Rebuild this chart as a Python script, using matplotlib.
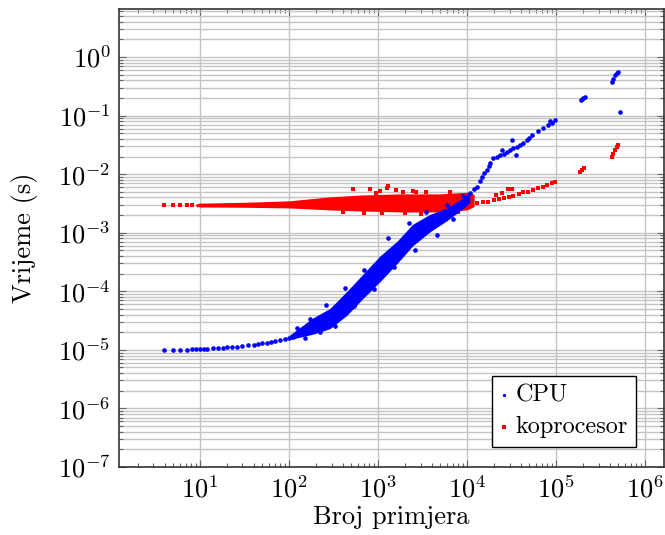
import numpy as np
import matplotlib
matplotlib.use('Agg')
import matplotlib.pyplot as plt
import matplotlib.ticker as mticker

# CPU (blue) - single points
cpu_x = [3.9, 5.0, 6.0, 7.1, 8.1, 9, 10, 11, 12, 14, 16, 18, 20, 23, 26, 30, 35, 40, 45, 50,
         56, 63, 70, 80, 90, 100, 110, 123, 150, 172, 223, 260, 330, 420, 530, 700, 900,
         1300, 1500, 2200, 2600, 3500, 4600, 6000, 7000, 9000,
         1.07e4, 1.2e4, 1.3e4, 1.4e4, 1.47e4, 1.55e4, 1.66e4, 1.75e4, 1.8e4, 1.96e4, 2.15e4,
         2.35e4, 2.6e4, 2.8e4, 3.0e4, 3.3e4, 3.6e4, 3.9e4, 4.3e4, 4.7e4, 5.4e4, 6.2e4, 7.1e4,
         8.1e4, 9.0e4, 9.8e4, 3.2e4, 2.5e4, 3.5e4, 5.0e4, 8.5e4,
         1.9e5, 1.95e5, 2.0e5, 2.1e5, 4.3e5, 4.4e5, 4.6e5, 4.8e5, 5.0e5, 5.2e5]
cpu_y = [1.0e-5, 1.0e-5, 1.0e-5, 1.0e-5, 1.02e-5, 1.02e-5, 1.03e-5, 1.04e-5, 1.05e-5, 1.06e-5,
         1.07e-5, 1.08e-5, 1.1e-5, 1.12e-5, 1.14e-5, 1.17e-5, 1.2e-5, 1.23e-5, 1.26e-5, 1.29e-5,
         1.32e-5, 1.36e-5, 1.4e-5, 1.46e-5, 1.52e-5, 1.6e-5, 1.68e-5, 2.4e-5, 1.6e-5, 3.4e-5,
         2.0e-5, 5.8e-5, 2.6e-5, 1.15e-4, 5.5e-5, 2.3e-4, 1.1e-4, 8.0e-4, 2.6e-4, 1.45e-3,
         5.0e-4, 2.3e-3, 9.0e-4, 3.0e-3, 1.7e-3, 4.2e-3,
         4.8e-3, 5.5e-3, 6.0e-3, 7.5e-3, 9.0e-3, 1.05e-2, 1.17e-2, 1.4e-2, 1.55e-2, 1.87e-2, 2.0e-2,
         2.1e-2, 2.25e-2, 2.4e-2, 2.6e-2, 2.8e-2, 2.95e-2, 3.1e-2, 3.4e-2, 3.8e-2, 4.7e-2, 5.4e-2,
         6.1e-2, 6.9e-2, 7.6e-2, 8.4e-2, 3.8e-2, 2.6e-2, 2.1e-2, 4.2e-2, 8.0e-2,
         0.185, 0.195, 0.2, 0.21, 0.37, 0.42, 0.5, 0.53, 0.55, 0.115]

# CPU dense band (lower / upper edge)
cpu_band_x = [102, 185, 288, 447, 675, 1047, 1625, 2455, 3810, 5910, 8950, 10700]
cpu_band_lo = [1.5e-5, 1.85e-5, 2.3e-5, 3.9e-5, 7.5e-5, 1.45e-4, 2.95e-4, 6.0e-4, 1.03e-3, 1.6e-3, 2.55e-3, 3.3e-3]
cpu_band_hi = [1.8e-5, 3.5e-5, 5.1e-5, 1.0e-4, 1.95e-4, 4.0e-4, 7.1e-4, 1.4e-3, 2.05e-3, 2.65e-3, 3.9e-3, 5.2e-3]

# koprocesor (red) - single points
kop_x = [3.9, 5.0, 6.0, 7.1, 8.1,
         525, 820, 1050, 1250, 1300, 1600, 1900, 2500, 3500,
         400, 700, 1100, 2000, 3000, 5500, 8000, 950, 2700, 6500,
         1.3e4, 1.5e4, 1.7e4, 2.0e4, 2.3e4, 2.6e4, 2.95e4, 3.3e4, 3.8e4, 4.3e4, 4.8e4, 5.5e4,
         6.2e4, 7.1e4, 8.0e4, 9.0e4, 9.8e4, 2.5e4, 2.9e4, 3.2e4, 2.1e4,
         1.85e5, 1.95e5, 2.05e5, 4.2e5, 4.4e5, 4.6e5, 4.8e5, 5.0e5]
kop_y = [3.0e-3, 3.0e-3, 2.95e-3, 2.95e-3, 2.95e-3,
         5.5e-3, 5.6e-3, 5.2e-3, 5.8e-3, 6.2e-3, 5.4e-3, 4.9e-3, 5.1e-3, 5.0e-3,
         2.3e-3, 2.2e-3, 2.15e-3, 2.2e-3, 2.1e-3, 2.15e-3, 2.3e-3, 4.8e-3, 4.9e-3, 4.9e-3,
         3.2e-3, 3.3e-3, 3.4e-3, 3.6e-3, 3.75e-3, 3.9e-3, 4.0e-3, 4.3e-3, 4.6e-3, 4.9e-3, 5.0e-3, 5.4e-3,
         5.8e-3, 6.0e-3, 6.6e-3, 7.0e-3, 7.4e-3, 4.8e-3, 5.5e-3, 5.6e-3, 4.4e-3,
         0.011, 0.0118, 0.0127, 0.0196, 0.022, 0.026, 0.029, 0.031]

kop_band_x = [9, 10, 30, 100, 290, 630, 1765, 4970, 10000, 12000]
kop_band_lo = [2.8e-3, 2.75e-3, 2.72e-3, 2.65e-3, 2.45e-3, 2.35e-3, 2.26e-3, 2.26e-3, 2.45e-3, 2.8e-3]
kop_band_hi = [3.1e-3, 3.2e-3, 3.3e-3, 3.5e-3, 4.1e-3, 4.4e-3, 4.6e-3, 4.6e-3, 4.9e-3, 4.5e-3]

x_ticks = [1e1, 1e2, 1e3, 1e4, 1e5, 1e6]
y_ticks = [1e-7, 1e-6, 1e-5, 1e-4, 1e-3, 1e-2, 1e-1, 1e0]

plt.rcParams['font.family'] = 'cmr10'
plt.rcParams['mathtext.fontset'] = 'cm'
plt.rcParams['axes.formatter.use_mathtext'] = True

fig = plt.figure(figsize=(6.65, 5.35), dpi=100)
ax = fig.add_axes([119 / 665, 1 - 467 / 535, 545 / 665, 458 / 535])

ax.fill_between(kop_band_x, kop_band_lo, kop_band_hi, color='red', lw=0, zorder=3)
ax.scatter(kop_x, kop_y, s=11, color='red', marker='s', linewidths=0, zorder=3, label='koprocesor')
ax.fill_between(cpu_band_x, cpu_band_lo, cpu_band_hi, color='blue', lw=0, zorder=4)
ax.scatter(cpu_x, cpu_y, s=11, color='blue', marker='o', linewidths=0, zorder=4, label='CPU')

ax.set_xscale('log')
ax.set_yscale('log')
ax.set_xlim(1.23, 1.63e6)
ax.set_ylim(1e-7, 6.6)

ax.xaxis.set_major_locator(mticker.FixedLocator(x_ticks))
ax.yaxis.set_major_locator(mticker.FixedLocator(y_ticks))
ax.xaxis.set_major_formatter(mticker.LogFormatterSciNotation())
ax.yaxis.set_major_formatter(mticker.LogFormatterSciNotation())
ax.xaxis.set_minor_locator(mticker.LogLocator(base=10, subs=np.arange(2, 10), numticks=20))
ax.yaxis.set_minor_locator(mticker.LogLocator(base=10, subs=np.arange(2, 10), numticks=20))
ax.xaxis.set_minor_formatter(mticker.NullFormatter())
ax.yaxis.set_minor_formatter(mticker.NullFormatter())

ax.grid(True, which='major', axis='both', color='#c4c4c4', lw=1.0, zorder=0)
ax.grid(True, which='minor', axis='y', color='#c4c4c4', lw=1.0, zorder=0)
ax.set_axisbelow(True)

ax.tick_params(which='both', direction='in', top=True, right=True, color='#666666', width=0.8)
ax.tick_params(which='major', length=5, labelsize=19, pad=6)
ax.tick_params(which='minor', length=3)
for s in ax.spines.values():
    s.set_color('#333333')
    s.set_linewidth(1.2)

ax.set_xlabel('Broj primjera', fontsize=19, labelpad=2)
ax.set_ylabel('Vrijeme (s)', fontsize=19, labelpad=14)

h, l = ax.get_legend_handles_labels()
leg = ax.legend(h[::-1], l[::-1], loc='lower right', bbox_to_anchor=(0.9486, 0.0437),
                borderaxespad=0, fontsize=17.5, fancybox=False, framealpha=1,
                edgecolor='black', markerscale=0.7, handlelength=0.3, handletextpad=0.3,
                borderpad=0.35, labelspacing=0.4)
leg.get_frame().set_linewidth(1.0)
leg.set_zorder(10)

fig.savefig('out.png', dpi=100)
